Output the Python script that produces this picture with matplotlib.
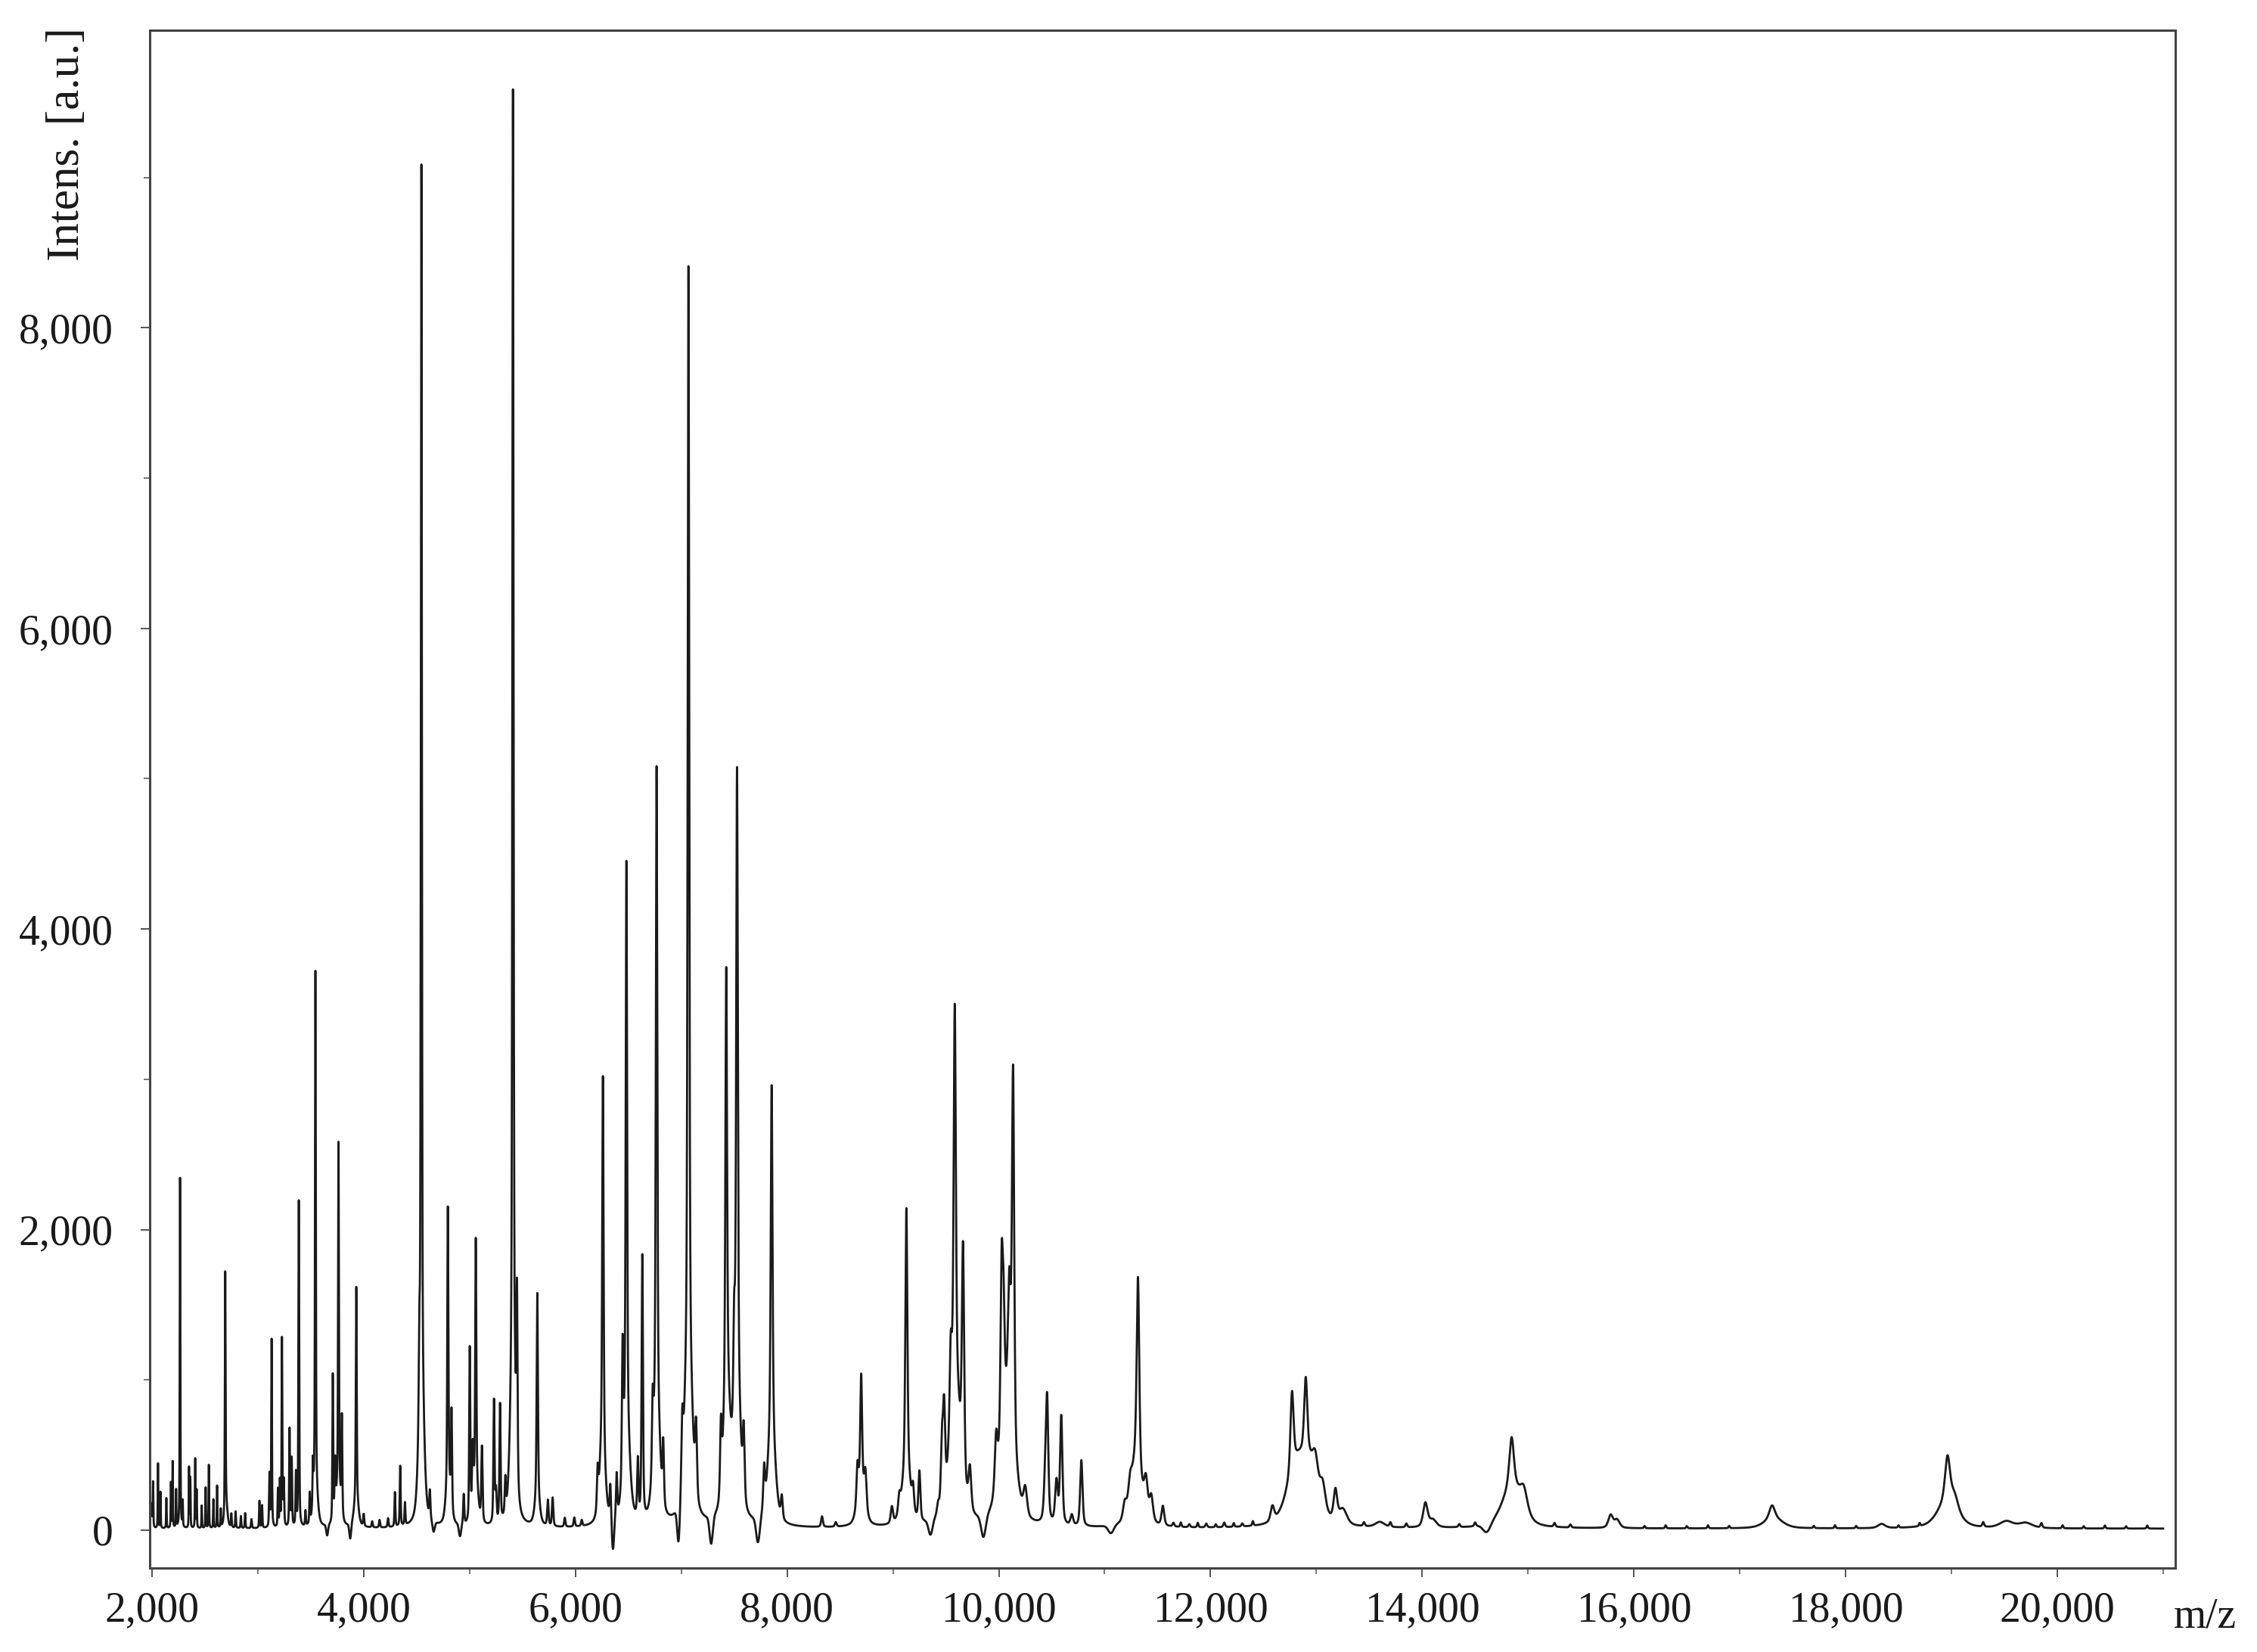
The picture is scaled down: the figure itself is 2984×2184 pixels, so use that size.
import numpy as np
import matplotlib
matplotlib.use("Agg")
import matplotlib.pyplot as plt
from matplotlib.ticker import MultipleLocator, FixedLocator, FuncFormatter

# ---------------- data ----------------
# peaks as (m/z, intensity [a.u.], FWHM [Da]); broad entries are the humps under spikes
peaks_2000_3000 = [
    (1995, 420, 8), (2010, 300, 6), (2057, 430, 6), (2080, 240, 6), (2136, 200, 6),
    (2179, 300, 6), (2195, 440, 6), (2228, 250, 6), (2265, 2330, 7), (2290, 170, 6),
    (2350, 400, 6), (2362, 330, 6), (2408, 460, 6), (2422, 250, 6), (2470, 150, 6),
    (2507, 270, 6), (2537, 420, 6), (2580, 190, 6), (2615, 280, 6), (2650, 120, 6),
    (2692, 1590, 8), (2700, 150, 30), (2750, 90, 8), (2790, 110, 8), (2840, 80, 8),
    (2880, 100, 8), (2940, 60, 10),
]
peaks_3000_4000 = [
    (3015, 180, 8), (3040, 150, 8), (3110, 350, 9), (3130, 1250, 8), (3190, 250, 8),
    (3208, 300, 8), (3228, 1250, 8), (3245, 300, 10), (3300, 650, 9), (3320, 450, 9),
    (3360, 350, 9), (3387, 2170, 9), (3450, 100, 9), (3490, 200, 9), (3520, 280, 9),
    (3544, 3400, 9), (3544, 300, 45), (3708, 980, 9), (3730, 350, 12), (3762, 2250, 9),
    (3762, 300, 45), (3794, 650, 10), (3930, 1400, 10), (3930, 200, 45), (4000, 80, 12),
]
peaks_4000_5000 = [
    (4080, 40, 12), (4150, 50, 12), (4230, 60, 12), (4295, 230, 10), (4345, 400, 10),
    (4390, 150, 10), (4525, 500, 12), (4545, 8050, 11), (4545, 1000, 55), (4625, 180, 12),
    (4795, 1830, 12), (4800, 300, 50), (4830, 650, 12), (4945, 200, 12), (5002, 1150, 12),
]
peaks_5000_6000 = [
    (5030, 400, 15), (5059, 1600, 12), (5059, 300, 50), (5117, 500, 14), (5231, 820, 13),
    (5250, 200, 13), (5288, 780, 13), (5338, 230, 13), (5410, 8450, 13), (5410, 1100, 55),
    (5448, 1200, 13), (5640, 1350, 14), (5640, 200, 50), (5740, 170, 15), (5785, 190, 15),
    (5900, 60, 15), (5990, 60, 15),
]
peaks_6000_7000 = [
    (6060, 40, 15), (6210, 250, 15), (6260, 2450, 15), (6255, 550, 60), (6330, 220, 14),
    (6390, 280, 14), (6446, 850, 15), (6482, 3700, 15), (6482, 700, 70), (6590, 380, 15),
    (6632, 1750, 15), (6730, 450, 16), (6767, 4230, 16), (6767, 800, 70), (6830, 400, 16),
    (7010, 380, 18),
]
peaks_7000_8000 = [
    (7068, 7270, 17), (7068, 1100, 85), (7140, 450, 20), (7375, 450, 18), (7425, 2750, 18),
    (7430, 900, 70), (7500, 600, 18), (7527, 4050, 18), (7527, 900, 75), (7590, 450, 20),
    (7783, 280, 20), (7854, 2280, 19), (7854, 650, 80), (7950, 150, 20),
]
peaks_8000_10000 = [
    (8330, 70, 20), (8460, 30, 20), (8665, 250, 22), (8700, 720, 20), (8700, 280, 80),
    (8740, 230, 25), (8990, 110, 25), (9060, 110, 25), (9127, 1730, 22), (9127, 380, 90),
    (9190, 150, 22), (9250, 330, 22), (9427, 70, 25), (9463, 420, 24), (9483, 600, 24),
    (9546, 550, 25), (9584, 2530, 24), (9590, 900, 120), (9662, 1500, 25), (9727, 280, 30),
    (9975, 350, 30),
]
peaks_10000_12000 = [
    (10027, 1100, 25), (10045, 650, 25), (10100, 800, 30), (10135, 2450, 25),
    (10080, 800, 150), (10250, 180, 40), (10440, 280, 30), (10457, 750, 26),
    (10545, 280, 30), (10590, 720, 26), (10690, 70, 30), (10780, 440, 26), (11190, 110, 40),
    (11240, 140, 40), (11315, 1230, 28), (11300, 450, 110), (11390, 230, 40),
    (11440, 170, 40), (11550, 130, 30),
]
peaks_12000_21000 = [
    (12585, 100, 40), (12770, 520, 35), (12800, 330, 200),
    (12900, 500, 35), (12930, 350, 200), (12990, 180, 60), (13060, 160, 60), (13180, 200, 40),
    (13250, 100, 90), (13600, 35, 100), (14030, 160, 50), (14100, 50, 80), (14845, 320, 50),
    (14850, 280, 220), (14960, 140, 80), (15780, 85, 50), (15840, 55, 60),
    (17305, 85, 60), (17320, 70, 200), (18340, 28, 80), (18963, 290, 55), (18963, 180, 220),
    (19030, 85, 80), (19520, 45, 150), (19700, 35, 150),
]
# small baseline wiggles: (m/z, intensity, FWHM)
baseline_bumps = [
    (11650, 25, 20), (11720, 30, 15), (11800, 20, 20), (11880, 30, 15), (11960, 25, 20),
    (12050, 20, 15), (12130, 30, 20), (12220, 25, 15), (12300, 20, 20), (12400, 30, 15),
    (13450, 25, 20), (13700, 30, 20), (13850, 25, 20), (14350, 20, 20), (14500, 25, 20),
    (15250, 25, 20), (15400, 20, 20), (16100, 15, 15), (16300, 20, 15), (16500, 15, 15),
    (16700, 20, 15), (16900, 15, 15), (17700, 15, 15), (17900, 20, 15), (18100, 15, 15),
    (18500, 15, 15), (18700, 20, 15), (19300, 30, 20), (19850, 30, 20), (20050, 20, 15),
    (20250, 15, 15), (20450, 20, 15), (20650, 15, 15), (20850, 20, 15),
]
# baseline dips between peaks: (m/z, level reached, FWHM)
dips = [
    (3655, -35, 20), (3873, -55, 20), (4660, -10, 25), (4910, -40, 25), (6355, -125, 25),
    (6975, -70, 30), (7283, -90, 35), (7725, -80, 40), (9355, -30, 45), (9855, -45, 50),
    (11060, -20, 60), (14610, -12, 80),
]
baseline_level = 10
x_major_ticks = [2000, 4000, 6000, 8000, 10000, 12000, 14000, 16000, 18000, 20000]
y_major_ticks = [0, 2000, 4000, 6000, 8000]

# ---------------- build spectrum ----------------
mz = np.arange(2000.0, 21000.5, 0.5)


def pseudo_voigt(x, c, h, w, eta=0.5):
    d = (x - c) / w
    return h * (eta / (1.0 + 4.0 * d * d) + (1 - eta) * np.exp(-4.0 * np.log(2) * d * d))


all_peaks = (peaks_2000_3000 + peaks_3000_4000 + peaks_4000_5000 + peaks_5000_6000 +
             peaks_6000_7000 + peaks_7000_8000 + peaks_8000_10000 + peaks_10000_12000 +
             peaks_12000_21000 + baseline_bumps)
intensity = np.full_like(mz, float(baseline_level))
for c, h, w in all_peaks:
    intensity += pseudo_voigt(mz, c, h, w)
for c, level, w in dips:
    cur = np.interp(c, mz, intensity)
    depth = cur - level
    intensity -= depth * np.exp(-4.0 * np.log(2) * ((mz - c) / w) ** 2)

# ---------------- figure ----------------
plt.rcParams['font.family'] = ['Liberation Serif', 'DejaVu Serif']
W, H, DPI = 2984, 2184, 200
fig = plt.figure(figsize=(W / DPI, H / DPI), dpi=DPI)
ax = fig.add_axes([198 / W, 1 - 2073 / H, (2876 - 198) / W, (2073 - 40) / H])

ax.plot(mz, intensity, color='#1a1a1a', lw=1.0)
ax.set_xlim(1979, 21115)
ax.set_ylim(-252, 9980)

spine_c = '#444444'
for s in ax.spines.values():
    s.set_color(spine_c)
    s.set_linewidth(1.1)

ax.xaxis.set_major_locator(FixedLocator(x_major_ticks))
ax.xaxis.set_minor_locator(MultipleLocator(1000))
ax.yaxis.set_major_locator(FixedLocator(y_major_ticks))
ax.yaxis.set_minor_locator(MultipleLocator(1000))
fmt = FuncFormatter(lambda v, p: f"{int(round(v)):,}")
ax.xaxis.set_major_formatter(fmt)
ax.yaxis.set_major_formatter(fmt)

ax.tick_params(axis='both', which='major', direction='out', length=4.3, width=0.7,
               color='#555555', labelsize=20, labelcolor='#1a1a1a')
ax.tick_params(axis='both', which='minor', direction='out', length=2.8, width=0.7,
               color='#777777')
ax.tick_params(axis='y', which='major', pad=13)
ax.tick_params(axis='x', which='major', pad=6.5)

fig.text(89 / W, 1 - 36 / H, 'Intens. [a.u.]', rotation=90, ha='center', va='top',
         fontsize=22, color='#1a1a1a')
fig.text(2915 / W, 1 - 2152 / H, 'm/z', ha='center', va='baseline', fontsize=20,
         color='#1a1a1a')

fig.savefig('out.png', dpi=DPI)
